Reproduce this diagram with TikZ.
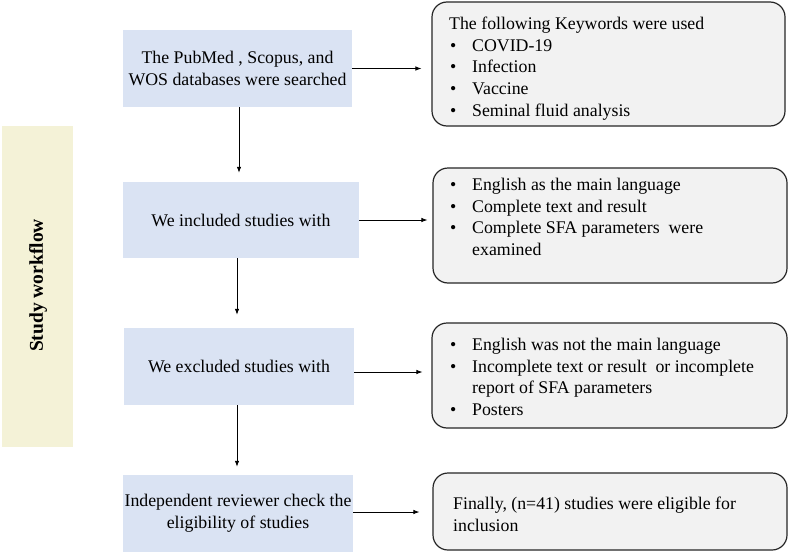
\documentclass[tikz,border=0pt]{standalone}
\usepackage{fontspec}
\setmainfont{Liberation Serif}
\usetikzlibrary{arrows.meta}
\definecolor{bluefill}{HTML}{DAE3F3}
\definecolor{grayfill}{HTML}{F2F2F2}
\definecolor{yellowfill}{HTML}{F4F2D7}
\definecolor{edgegray}{HTML}{262626}
\newcommand{\bul}{\makebox[23pt][l]{\hspace{1pt}\textbullet}}
\tikzset{
  bluebox/.style={fill=bluefill, draw=none, inner sep=0pt, align=center,
    font=\fontsize{17.8}{21.8}\selectfont},
  roundbox/.style={fill=grayfill, draw=edgegray, line width=1.2pt, rounded corners=15pt, inner sep=0pt},
  boxtext/.style={anchor=north west, inner sep=0pt, align=left,
    font=\fontsize{17.8}{21.6}\selectfont},
  sidebar/.style={fill=yellowfill, draw=none, inner sep=0pt},
  flowarrow/.style={line width=0.8pt, -{Latex[length=6pt,width=4.5pt]}}
}
\begin{document}
\begin{tikzpicture}[x=1pt,y=-1pt]
\useasboundingbox (0,0) rectangle (790,554);
\fill[white] (0,0) rectangle (790,554);

% side bar
\node[sidebar, minimum width=71pt, minimum height=321pt] (side) at (37.5,286.5) {};
\node[rotate=90, font=\fontsize{19.5}{22}\selectfont\bfseries] (sidet) at (38,285.5) {Study workflow};

% left blue boxes
\node[bluebox, minimum width=229pt, minimum height=77pt] (b1) at (237.5,68.5)
  {The PubMed , Scopus, and\\WOS databases were searched};
\node[bluebox, minimum width=236pt, minimum height=76pt] (b2) at (241,220)
  {We included studies with};
\node[bluebox, minimum width=230pt, minimum height=77pt] (b3) at (239,366.5)
  {We excluded studies with};
\node[bluebox, minimum width=230pt, minimum height=77pt] (b4) at (238,513.5)
  {Independent reviewer check the\\eligibility of studies};

% right rounded boxes
\node[roundbox, minimum width=353pt, minimum height=124pt] (r1) at (608.5,64) {};
\node[roundbox, minimum width=354pt, minimum height=115pt] (r2) at (610,225.5) {};
\node[roundbox, minimum width=355pt, minimum height=105pt] (r3) at (609.5,375.5) {};
\node[roundbox, minimum width=354pt, minimum height=77pt] (r4) at (610,511.5) {};

\node[boxtext] (r1t) at (449,17) {The following Keywords were used\\
  \bul COVID-19\\ \bul Infection\\ \bul Vaccine\\ \bul Seminal fluid analysis};
\node[boxtext] (r2t) at (449,178) {\bul English as the main language\\
  \bul Complete text and result\\ \bul Complete SFA parameters\ \ were\\
  \hspace*{23pt}examined};
\node[boxtext] (r3t) at (449,338) {\bul English was not the main language\\
  \bul Incomplete text or result\ \ or incomplete\\
  \hspace*{23pt}report of SFA parameters\\ \bul Posters};
\node[boxtext] (r4t) at (453,497) {Finally, (n=41) studies were eligible for\\inclusion};

% vertical arrows
\draw[flowarrow, shorten >=9pt] ([xshift=1.5pt]b1.south) -- ([xshift=1.5pt]b1.south |- b2.north);
\draw[flowarrow, shorten >=13pt] ([xshift=-4pt]b2.south) -- ([xshift=-4pt]b2.south |- b3.north);
\draw[flowarrow, shorten >=8pt] ([xshift=-2pt]b3.south) -- ([xshift=-2pt]b3.south |- b4.north);

% horizontal arrows
\draw[flowarrow, shorten >=10pt] (b1.east) -- (b1.east -| r1.west);
\draw[flowarrow, shorten >=5pt] (b2.east) -- (b2.east -| r2.west);
\draw[flowarrow, shorten >=9pt] ([yshift=-5.5pt]b3.east) -- ([yshift=-5.5pt]b3.east -| r3.west);
\draw[flowarrow, shorten >=13pt] ([yshift=1.5pt]b4.east) -- ([yshift=1.5pt]b4.east -| r4.west);
\end{tikzpicture}
\end{document}
